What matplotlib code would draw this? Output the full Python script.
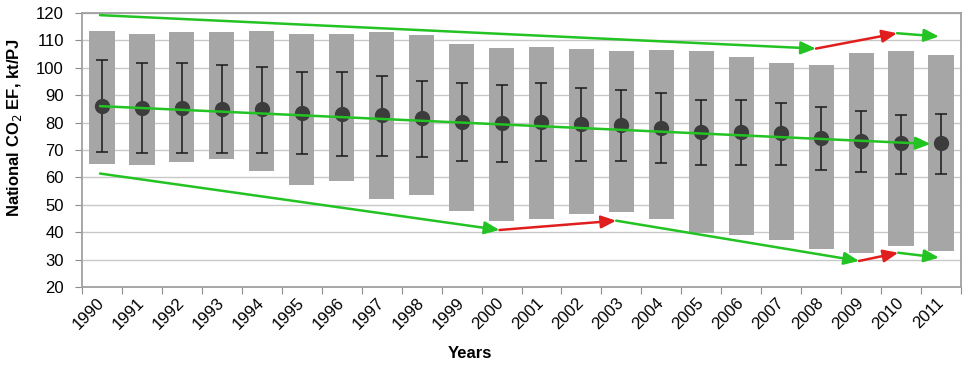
import numpy as np
from matplotlib import pyplot as plt

# data
years = [str(y) for y in range(1990, 2012)]
range_top = [113.4, 112.4, 113.0, 113.0, 113.4, 112.4, 112.2, 113.0, 111.9, 108.8, 107.1,
             107.5, 106.7, 106.0, 106.5, 106.2, 103.8, 101.9, 101.1, 105.3, 106.0, 104.6]
range_bottom = [65.0, 64.5, 65.5, 66.7, 62.3, 57.1, 58.7, 52.0, 53.5, 47.6, 44.0,
                44.9, 46.5, 47.4, 44.8, 39.6, 38.9, 37.2, 34.0, 32.3, 35.0, 33.3]
mean_ef = [86.0, 85.4, 85.2, 85.0, 84.8, 83.6, 83.3, 82.6, 81.6, 80.2, 79.7,
           80.2, 79.4, 79.1, 77.9, 76.4, 76.5, 76.1, 74.4, 73.4, 72.4, 72.4]
err_top = [103.0, 101.9, 101.9, 101.1, 100.3, 98.5, 98.3, 96.9, 95.3, 94.3, 93.8,
           94.3, 92.6, 91.8, 90.7, 88.1, 88.4, 87.3, 85.6, 84.2, 82.9, 83.3]
err_bottom = [69.4, 69.0, 68.8, 68.8, 69.0, 68.4, 67.8, 67.8, 67.4, 65.9, 65.5,
              65.9, 65.9, 66.1, 65.1, 64.4, 64.6, 64.6, 62.6, 62.0, 61.1, 61.1]

# trend arrows: (x in category units, value) and segment colours
upper_trend = [(-0.05, 119.2), (17.87, 107.0), (19.9, 112.6), (20.95, 111.4)]
upper_colors = ['green', 'red', 'green']
middle_trend = [(-0.05, 86.0), (20.74, 72.2)]
middle_colors = ['green']
lower_trend = [(-0.05, 61.4), (9.95, 40.8), (12.87, 44.2), (18.95, 29.5), (19.93, 32.5), (20.95, 30.7)]
lower_colors = ['green', 'red', 'green', 'red', 'green']

COLORS = {'green': '#22c322', 'red': '#e01e1e'}

plt.rcParams['font.family'] = ['Liberation Sans', 'DejaVu Sans']

fig = plt.figure(figsize=(9.67, 3.67), dpi=100)
ax = fig.add_axes([0.0848, 0.218, 0.909, 0.7467])

x = np.arange(len(years))
bottom = np.array(range_bottom)
height = np.array(range_top) - bottom
ax.bar(x, height, bottom=bottom, width=0.63, color='#a6a6a6', zorder=2)

mean = np.array(mean_ef)
yerr = [mean - np.array(err_bottom), np.array(err_top) - mean]
ax.errorbar(x, mean, yerr=yerr, fmt='none', ecolor='#1a1a1a', elinewidth=1.1,
            capsize=4.5, capthick=1.1, zorder=3)
ax.plot(x, mean, 'o', color='#3c3c3c', markersize=10, zorder=4)


def draw_trend(points, colors):
    for (x0, y0), (x1, y1), c in zip(points[:-1], points[1:], colors):
        ax.annotate('', xy=(x1, y1), xytext=(x0, y0),
                    arrowprops=dict(arrowstyle='-|>,head_length=0.9,head_width=0.38',
                                    color=COLORS[c], lw=1.8, shrinkA=0, shrinkB=0),
                    zorder=5)


draw_trend(upper_trend, upper_colors)
draw_trend(middle_trend, middle_colors)
draw_trend(lower_trend, lower_colors)

# axes
ax.set_xlim(-0.5, len(years) - 0.5)
ax.set_ylim(20, 120)
ax.set_yticks(range(20, 121, 10))
ax.set_xticks(np.arange(len(years) + 1) - 0.5, minor=False)
ax.set_xticklabels([])
ax.set_xticks(x, minor=True)
ax.set_xticklabels(years, minor=True, rotation=45, ha='right', va='center',
                   rotation_mode='anchor', fontsize=12)
ax.tick_params(axis='x', which='minor', length=0, pad=10)
ax.tick_params(axis='x', which='major', length=5, color='#8c8c8c', direction='out')
ax.tick_params(axis='y', length=5, color='#8c8c8c', labelsize=12, pad=8)
ax.grid(axis='y', color='#c8c8c8', linewidth=1.0, zorder=0)
ax.set_axisbelow(True)
for side in ['left', 'bottom', 'top', 'right']:
    ax.spines[side].set_color('#a0a0a0')
    ax.spines[side].set_linewidth(1.3)

ax.set_ylabel('National CO$_2$ EF, kt/PJ', fontsize=12, fontweight='bold')
ax.yaxis.set_label_coords(-0.066, 0.582)
ax.set_xlabel('Years', fontsize=12, fontweight='bold')
ax.xaxis.set_label_coords(0.441, -0.215)

plt.savefig('out.png', dpi=100)
